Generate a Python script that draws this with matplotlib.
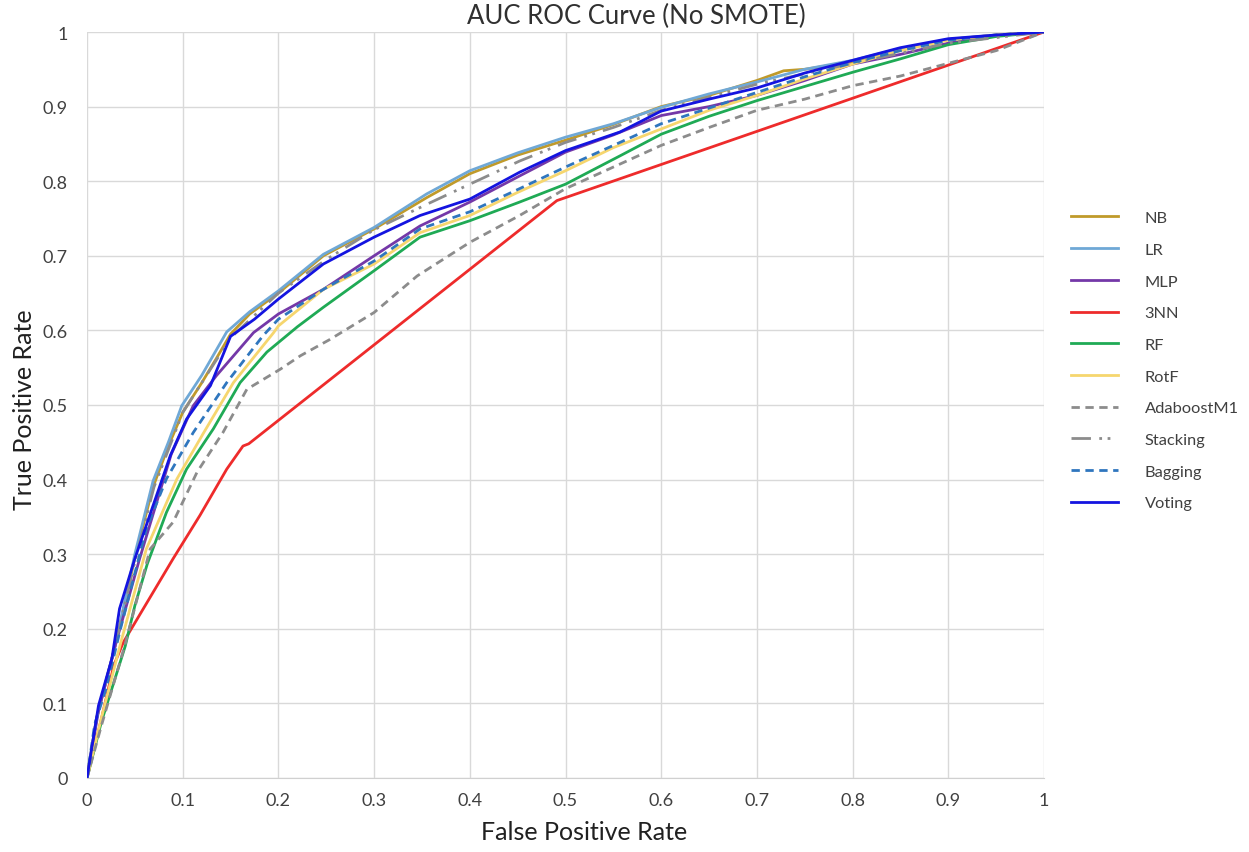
import matplotlib
matplotlib.use("Agg")
import matplotlib.pyplot as plt
from matplotlib.ticker import FuncFormatter

plt.rcParams['font.family'] = ['Lato', 'DejaVu Sans']

title = "AUC ROC Curve (No SMOTE)"
xlabel = "False Positive Rate"
ylabel = "True Positive Rate"
ticks = [0, 0.1, 0.2, 0.3, 0.4, 0.5, 0.6, 0.7, 0.8, 0.9, 1]

# ---- data (FPR, TPR) ----
lr_x = [0, 0.01, 0.03, 0.05, 0.069, 0.085, 0.099, 0.12, 0.146, 0.17, 0.2, 0.247, 0.3, 0.355, 0.4, 0.45, 0.5, 0.55, 0.6, 0.65, 0.7, 0.75, 0.8, 0.85, 0.9, 0.95, 1]
lr_y = [0, 0.08, 0.18, 0.30, 0.398, 0.45, 0.499, 0.54, 0.598, 0.625, 0.653, 0.702, 0.738, 0.783, 0.814, 0.838, 0.859, 0.877, 0.899, 0.917, 0.933, 0.95, 0.962, 0.978, 0.99, 0.996, 1]

nb_x = [0, 0.01, 0.03, 0.05, 0.069, 0.085, 0.1, 0.12, 0.135, 0.15, 0.17, 0.2, 0.247, 0.3, 0.355, 0.4, 0.45, 0.5, 0.55, 0.6, 0.65, 0.7, 0.728, 0.75, 0.8, 0.85, 0.9, 0.95, 1]
nb_y = [0, 0.08, 0.18, 0.295, 0.39, 0.445, 0.49, 0.53, 0.562, 0.595, 0.622, 0.65, 0.70, 0.736, 0.778, 0.81, 0.835, 0.855, 0.876, 0.90, 0.915, 0.935, 0.948, 0.95, 0.96, 0.977, 0.99, 0.996, 1]

mlp_x = [0, 0.012, 0.03, 0.055, 0.088, 0.111, 0.135, 0.174, 0.2, 0.247, 0.3, 0.348, 0.4, 0.452, 0.5, 0.55, 0.6, 0.65, 0.7, 0.75, 0.8, 0.85, 0.9, 0.95, 1]
mlp_y = [0, 0.09, 0.18, 0.294, 0.434, 0.499, 0.539, 0.597, 0.622, 0.655, 0.70, 0.740, 0.772, 0.807, 0.839, 0.862, 0.888, 0.90, 0.915, 0.935, 0.957, 0.970, 0.985, 0.995, 1]

knn_x = [0, 0.015, 0.028, 0.038, 0.09, 0.118, 0.146, 0.163, 0.169, 0.491, 1]
knn_y = [0, 0.079, 0.151, 0.182, 0.294, 0.352, 0.414, 0.445, 0.448, 0.774, 1]

rf_x = [0, 0.015, 0.04, 0.05, 0.063, 0.083, 0.104, 0.132, 0.16, 0.188, 0.22, 0.247, 0.3, 0.348, 0.4, 0.452, 0.5, 0.557, 0.6, 0.65, 0.7, 0.75, 0.8, 0.85, 0.9, 0.95, 1]
rf_y = [0, 0.075, 0.177, 0.231, 0.287, 0.356, 0.414, 0.468, 0.530, 0.571, 0.605, 0.631, 0.680, 0.725, 0.747, 0.772, 0.796, 0.834, 0.863, 0.887, 0.908, 0.927, 0.946, 0.964, 0.983, 0.994, 1]

rotf_x = [0, 0.015, 0.035, 0.062, 0.094, 0.122, 0.153, 0.195, 0.2, 0.247, 0.3, 0.348, 0.4, 0.45, 0.5, 0.55, 0.6, 0.65, 0.7, 0.75, 0.8, 0.85, 0.9, 0.95, 1]
rotf_y = [0, 0.08, 0.18, 0.307, 0.401, 0.463, 0.530, 0.597, 0.606, 0.655, 0.689, 0.731, 0.754, 0.785, 0.814, 0.845, 0.870, 0.895, 0.915, 0.937, 0.957, 0.975, 0.989, 0.996, 1]

ada_x = [0, 0.015, 0.04, 0.066, 0.09, 0.115, 0.142, 0.167, 0.202, 0.223, 0.254, 0.3, 0.345, 0.4, 0.452, 0.5, 0.557, 0.6, 0.65, 0.7, 0.75, 0.8, 0.85, 0.9, 0.95, 0.978, 1]
ada_y = [0, 0.07, 0.18, 0.307, 0.343, 0.410, 0.463, 0.521, 0.548, 0.566, 0.588, 0.624, 0.673, 0.718, 0.754, 0.79, 0.823, 0.848, 0.872, 0.895, 0.91, 0.928, 0.941, 0.958, 0.975, 0.989, 1]

stk_x = [0, 0.01, 0.03, 0.05, 0.07, 0.1, 0.15, 0.2, 0.25, 0.3, 0.355, 0.4, 0.452, 0.5, 0.55, 0.6, 0.7, 0.8, 0.9, 1]
stk_y = [0, 0.08, 0.18, 0.29, 0.39, 0.49, 0.59, 0.65, 0.695, 0.735, 0.769, 0.796, 0.827, 0.852, 0.872, 0.895, 0.93, 0.958, 0.985, 1]

bag_x = [0, 0.008, 0.02, 0.035, 0.062, 0.083, 0.111, 0.146, 0.184, 0.2, 0.247, 0.3, 0.348, 0.4, 0.452, 0.5, 0.557, 0.6, 0.65, 0.7, 0.75, 0.8, 0.85, 0.9, 0.95, 1]
bag_y = [0, 0.072, 0.12, 0.2, 0.334, 0.401, 0.463, 0.530, 0.593, 0.615, 0.655, 0.693, 0.736, 0.759, 0.79, 0.819, 0.852, 0.877, 0.898, 0.919, 0.94, 0.959, 0.975, 0.989, 0.996, 1]

vot_x = [0, 0.012, 0.026, 0.034, 0.05, 0.069, 0.087, 0.104, 0.129, 0.15, 0.175, 0.2, 0.247, 0.3, 0.348, 0.4, 0.452, 0.5, 0.557, 0.6, 0.65, 0.7, 0.75, 0.8, 0.85, 0.9, 0.95, 1]
vot_y = [0, 0.097, 0.16, 0.227, 0.294, 0.365, 0.432, 0.481, 0.526, 0.592, 0.615, 0.642, 0.689, 0.725, 0.754, 0.776, 0.812, 0.841, 0.866, 0.894, 0.91, 0.925, 0.945, 0.962, 0.979, 0.991, 0.996, 1]

series = [
    ("NB", nb_x, nb_y, "#C09A2A", "-"),
    ("LR", lr_x, lr_y, "#6FA8D6", "-"),
    ("MLP", mlp_x, mlp_y, "#7438A8", "-"),
    ("3NN", knn_x, knn_y, "#EE2B2B", "-"),
    ("RF", rf_x, rf_y, "#1FAA55", "-"),
    ("RotF", rotf_x, rotf_y, "#F6D66E", "-"),
    ("AdaboostM1", ada_x, ada_y, "#8C8C8C", (0, (3, 2))),
    ("Stacking", stk_x, stk_y, "#8C8C8C", (0, (7, 3, 1, 2, 1, 3))),
    ("Bagging", bag_x, bag_y, "#2F76BE", (0, (3, 2))),
    ("Voting", vot_x, vot_y, "#1414E0", "-"),
]

W, H = 1249, 853
fig = plt.figure(figsize=(W / 100, H / 100), dpi=100)
ax = fig.add_axes([87/W, 1-779/H, (1044-87)/W, (779-33)/H])

for name, xs, ys, c, ls in series:
    ax.plot(xs, ys, color=c, linestyle=ls, lw=2, label=name)

ax.set_xlim(0, 1)
ax.set_ylim(0, 1)
ax.set_xticks(ticks)
ax.set_yticks(ticks)
fmt = FuncFormatter(lambda v, p: ('%g' % round(v, 1)))
ax.xaxis.set_major_formatter(fmt)
ax.yaxis.set_major_formatter(fmt)
ax.grid(True, color="#D9D9D9", lw=1)
ax.set_axisbelow(True)
for s in ["top", "right", "left"]:
    ax.spines[s].set_visible(False)
ax.spines["bottom"].set_color("#D0D0D0")
ax.tick_params(length=0, labelsize=13, colors="#404040", pad=10)
ax.tick_params(axis='y', pad=14)

fig.text(636/W, 1-16/H, title, fontsize=18.5, color="#303030", ha="center", va="center")
fig.text(584/W, 1-833/H, xlabel, fontsize=18, color="#202020", ha="center", va="center")
fig.text(25/W, 1-410/H, ylabel, fontsize=18, color="#202020", ha="center", va="center",
         rotation=90)

fig.legend(loc="upper left", bbox_to_anchor=(1056/W, 1-197/H), frameon=False,
           fontsize=11.8, handlelength=2.9, handletextpad=1.6, labelspacing=1.05,
           labelcolor="#404040")

fig.savefig("out.png", dpi=100)
